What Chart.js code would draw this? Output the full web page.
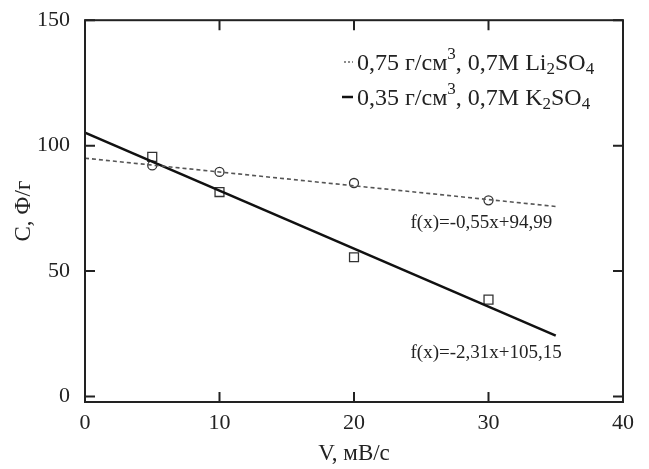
<!DOCTYPE html>
<html lang="ru">
<head>
<meta charset="UTF-8">
<script src="https://cdn.jsdelivr.net/npm/chart.js"></script>
<title>C(V)</title>
<style>
  html, body { margin: 0; padding: 0; background: #fff; }
</style>
</head>
<body>
<canvas id="myChart" width="649" height="469"></canvas>
<script>
// scan rate, mV/s
const speeds = [5, 10, 20, 30];
// specific capacitance, F/g
const capLi = [92.1, 89.5, 85.1, 78.2];
const capK = [95.5, 81.5, 55.5, 38.6];
// fitted lines, drawn from x=0 to x=35
const fitRange = [0, 35];
const fitLi = [94.99, 75.74];
const fitK = [105.15, 24.30];
const fitTextLi = 'f(x)=-0,55x+94,99';
const fitTextK = 'f(x)=-2,31x+105,15';
// axis ticks
const xTicks = [0, 10, 20, 30, 40];
const yTicks = [0, 50, 100, 150];

const serif = "'Liberation Serif', 'Times New Roman', serif";
const ink = '#222';

function pts(xs, ys) {
  return xs.map((x, i) => ({ x: x, y: ys[i] }));
}

// draws text runs with sub/superscripts
function runs(ctx, x, y, parts) {
  parts.forEach(p => {
    const size = p.s ? 17 : 24;
    const dy = p.s === 'sup' ? -9 : (p.s === 'sub' ? 6 : 0);
    ctx.font = size + 'px ' + serif;
    ctx.fillText(p.t, x, y + dy);
    x += ctx.measureText(p.t).width;
  });
  return x;
}

const framePlugin = {
  id: 'frame',
  afterDraw(chart) {
    const { ctx, chartArea: a, scales } = chart;
    ctx.save();
    ctx.strokeStyle = ink;
    ctx.lineWidth = 2;
    ctx.strokeRect(a.left, a.top, a.right - a.left, a.bottom - a.top);
    const len = 10;
    ctx.beginPath();
    xTicks.forEach(v => {
      const px = scales.x.getPixelForValue(v);
      ctx.moveTo(px, a.bottom); ctx.lineTo(px, a.bottom - len);
      ctx.moveTo(px, a.top); ctx.lineTo(px, a.top + len);
    });
    yTicks.forEach(v => {
      const py = scales.y.getPixelForValue(v);
      ctx.moveTo(a.left, py); ctx.lineTo(a.left + len, py);
      ctx.moveTo(a.right, py); ctx.lineTo(a.right - len, py);
    });
    ctx.stroke();

    // legend
    ctx.fillStyle = ink;
    ctx.textBaseline = 'middle';
    ctx.strokeStyle = '#666';
    ctx.lineWidth = 1.5;
    ctx.setLineDash([2, 2]);
    ctx.beginPath(); ctx.moveTo(344, 62); ctx.lineTo(353, 62); ctx.stroke();
    ctx.setLineDash([]);
    ctx.strokeStyle = '#111';
    ctx.lineWidth = 2.5;
    ctx.beginPath(); ctx.moveTo(342, 97); ctx.lineTo(353, 97); ctx.stroke();
    runs(ctx, 357, 64, [
      { t: '0,75 г/см' }, { t: '3', s: 'sup' }, { t: ', 0,7M Li' },
      { t: '2', s: 'sub' }, { t: 'SO' }, { t: '4', s: 'sub' }
    ]);
    runs(ctx, 357, 99, [
      { t: '0,35 г/см' }, { t: '3', s: 'sup' }, { t: ', 0,7M K' },
      { t: '2', s: 'sub' }, { t: 'SO' }, { t: '4', s: 'sub' }
    ]);

    // fit equations
    ctx.font = '19px ' + serif;
    ctx.fillText(fitTextLi, scales.x.getPixelForValue(24.2), scales.y.getPixelForValue(69.0));
    ctx.fillText(fitTextK, scales.x.getPixelForValue(24.2), scales.y.getPixelForValue(17.3));
    ctx.restore();
  }
};

const ctx = document.getElementById('myChart');
new Chart(ctx, {
  type: 'scatter',
  data: {
    datasets: [
      {
        type: 'line',
        data: pts(fitRange, fitLi),
        borderColor: '#555',
        borderWidth: 1.6,
        borderDash: [4, 3],
        pointRadius: 0
      },
      {
        type: 'line',
        data: pts(fitRange, fitK),
        borderColor: '#111',
        borderWidth: 2.5,
        pointRadius: 0
      },
      {
        data: pts(speeds, capLi),
        pointStyle: 'circle',
        pointRadius: 4.5,
        borderColor: '#333',
        borderWidth: 1.3,
        backgroundColor: 'rgba(0,0,0,0)'
      },
      {
        data: pts(speeds, capK),
        pointStyle: 'rect',
        pointRadius: 6.3,
        borderColor: '#333',
        borderWidth: 1.3,
        backgroundColor: 'rgba(0,0,0,0)'
      }
    ]
  },
  options: {
    responsive: false,
    animation: false,
    layout: { padding: { left: 0, right: 26, top: 20, bottom: 0 } },
    plugins: { legend: { display: false }, tooltip: { enabled: false } },
    scales: {
      x: {
        type: 'linear',
        min: 0, max: 40,
        grid: { display: false },
        border: { display: false },
        afterBuildTicks(s) { s.ticks = xTicks.map(v => ({ value: v })); },
        ticks: { padding: 0, color: ink, font: { family: serif, size: 22 } },
        title: { display: true, text: 'V, мВ/с', color: ink, font: { family: serif, size: 23 }, padding: { top: 0, bottom: 1 } },
        afterFit(s) { s.height = 67; }
      },
      y: {
        min: -2.2, max: 150,
        grid: { display: false },
        border: { display: false },
        afterBuildTicks(s) { s.ticks = yTicks.map(v => ({ value: v })); },
        ticks: { padding: 7, color: ink, font: { family: serif, size: 22 } },
        title: { display: true, text: 'C, Ф/г', color: ink, font: { family: serif, size: 23 }, padding: { top: 10, bottom: 0 } },
        afterFit(s) { s.width = 85; }
      }
    }
  },
  plugins: [framePlugin]
});
</script>
</body>
</html>
